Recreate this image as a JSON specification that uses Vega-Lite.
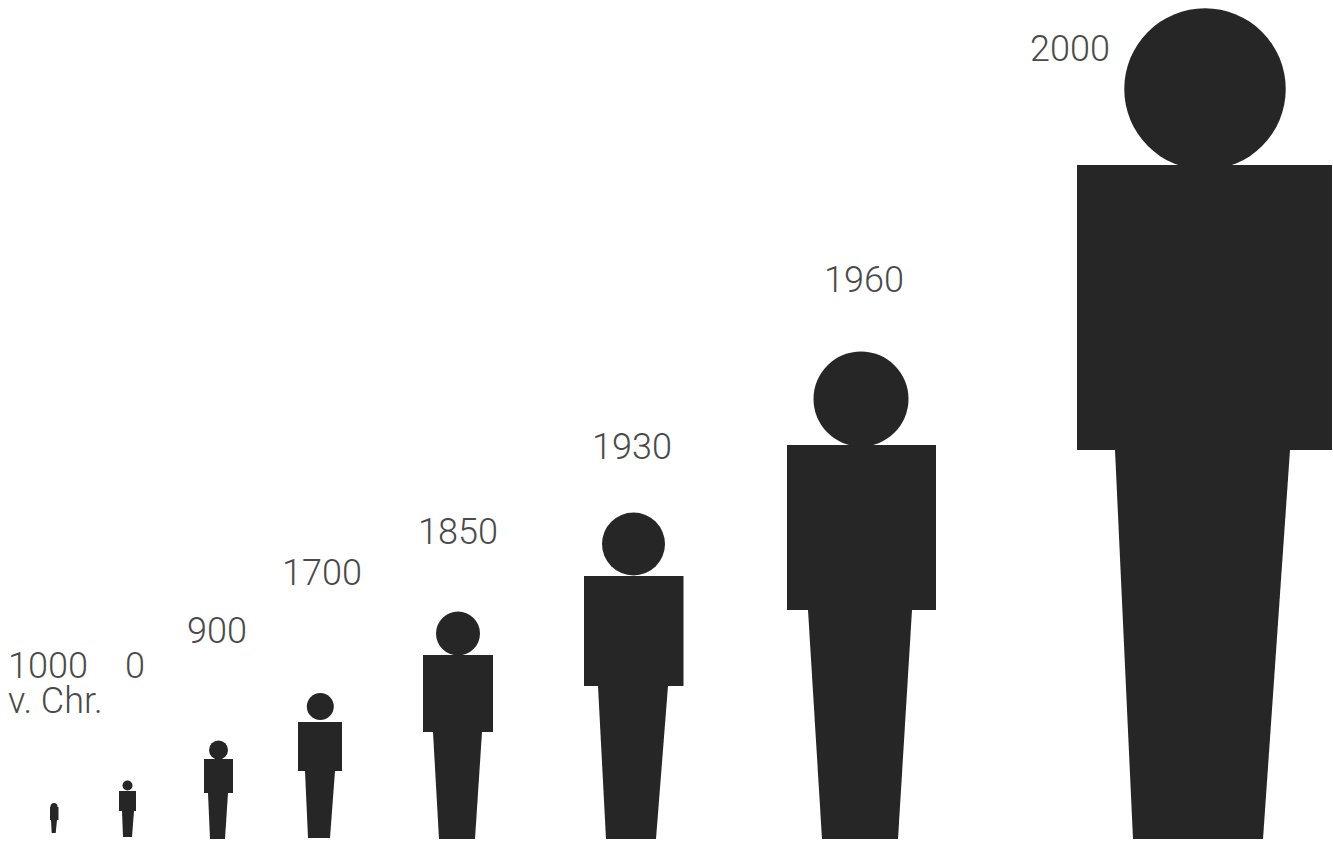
{
"$schema":"https://vega.github.io/schema/vega-lite/v6.json",
"width":1333,"height":844,"padding":0,"autosize":{"type":"none"},
"background":"#ffffff",
"config":{"view":{"stroke":null}},
"datasets":{
"figures":[
{"year":"1000 v. Chr.","head_x":54,"head_h":37.5,"head_d":7,"torso_x1":50,"torso_x2":58.5,"torso_h1":24,"torso_h2":37},
{"year":"0","head_x":127.5,"head_h":58.5,"head_d":10,"torso_x1":119,"torso_x2":136,"torso_h1":33,"torso_h2":53},
{"year":"900","head_x":218.5,"head_h":94,"head_d":19,"torso_x1":204,"torso_x2":233,"torso_h1":51,"torso_h2":85},
{"year":"1700","head_x":320.3,"head_h":137.5,"head_d":27,"torso_x1":298,"torso_x2":342,"torso_h1":73,"torso_h2":122},
{"year":"1850","head_x":458,"head_h":210.5,"head_d":44,"torso_x1":423,"torso_x2":493,"torso_h1":112,"torso_h2":189},
{"year":"1930","head_x":633.5,"head_h":300,"head_d":63,"torso_x1":584,"torso_x2":683.5,"torso_h1":158,"torso_h2":268},
{"year":"1960","head_x":861,"head_h":445,"head_d":95,"torso_x1":787,"torso_x2":936,"torso_h1":234,"torso_h2":399},
{"year":"2000","head_x":1205,"head_h":755,"head_d":161.5,"torso_x1":1077,"torso_x2":1332,"torso_h1":394,"torso_h2":679}
],
"legs":[
{"year":"1000 v. Chr.","h":24,"x1":51,"x2":57},{"year":"1000 v. Chr.","h":11,"x1":51.7,"x2":55.7},
{"year":"0","h":33,"x1":122,"x2":134},{"year":"0","h":7,"x1":123,"x2":132},
{"year":"900","h":51,"x1":208,"x2":228},{"year":"900","h":5,"x1":210,"x2":225},
{"year":"1700","h":73,"x1":305,"x2":335},{"year":"1700","h":6,"x1":308,"x2":330},
{"year":"1850","h":112,"x1":433,"x2":482},{"year":"1850","h":5,"x1":439,"x2":475},
{"year":"1930","h":158,"x1":598,"x2":668},{"year":"1930","h":5,"x1":606,"x2":656},
{"year":"1960","h":234,"x1":808,"x2":912},{"year":"1960","h":5,"x1":822,"x2":898},
{"year":"2000","h":394,"x1":1115,"x2":1290},{"year":"2000","h":5,"x1":1133,"x2":1263}
],
"labels":[
{"text":["1000","v. Chr."],"x":8,"h":166},{"text":"0","x":125,"h":166},
{"text":"900","x":187,"h":201},{"text":"1700","x":282,"h":259},{"text":"1850","x":418,"h":300},
{"text":"1930","x":592,"h":385},{"text":"1960","x":824,"h":552},{"text":"2000","x":1030,"h":783}
]},
"layer":[
{"data":{"name":"legs"},"mark":{"type":"area","orient":"horizontal","color":"#262626"},
"encoding":{"y":{"field":"h","type":"quantitative","scale":{"domain":[0,844],"nice":false,"zero":false},"axis":null},
"x":{"field":"x1","type":"quantitative","scale":{"domain":[0,1333],"nice":false,"zero":false},"axis":null},
"x2":{"field":"x2"},"detail":{"field":"year","type":"nominal"}}},
{"data":{"name":"figures"},"mark":{"type":"rect","color":"#262626"},
"encoding":{"x":{"field":"torso_x1","type":"quantitative","scale":{"domain":[0,1333],"nice":false,"zero":false},"axis":null},"x2":{"field":"torso_x2"},
"y":{"field":"torso_h1","type":"quantitative","scale":{"domain":[0,844],"nice":false,"zero":false},"axis":null},"y2":{"field":"torso_h2"}}},
{"data":{"name":"figures"},"mark":{"type":"point","shape":"circle","filled":true,"opacity":1,"color":"#262626"},
"encoding":{"x":{"field":"head_x","type":"quantitative","scale":{"domain":[0,1333],"nice":false,"zero":false},"axis":null},
"y":{"field":"head_h","type":"quantitative","scale":{"domain":[0,844],"nice":false,"zero":false},"axis":null},
"size":{"field":"head_d","type":"quantitative","legend":null,"scale":{"type":"pow","exponent":2,"domain":[0,200],"range":[0,40000]}}}},
{"data":{"name":"labels"},"mark":{"type":"text","align":"left","baseline":"alphabetic","font":"Roboto","fontWeight":300,"fontSize":36,"lineHeight":35,"color":"#4a4a4a"},
"encoding":{"x":{"field":"x","type":"quantitative","scale":{"domain":[0,1333],"nice":false,"zero":false},"axis":null},
"y":{"field":"h","type":"quantitative","scale":{"domain":[0,844],"nice":false,"zero":false},"axis":null},
"text":{"field":"text","type":"nominal"}}}
]}
